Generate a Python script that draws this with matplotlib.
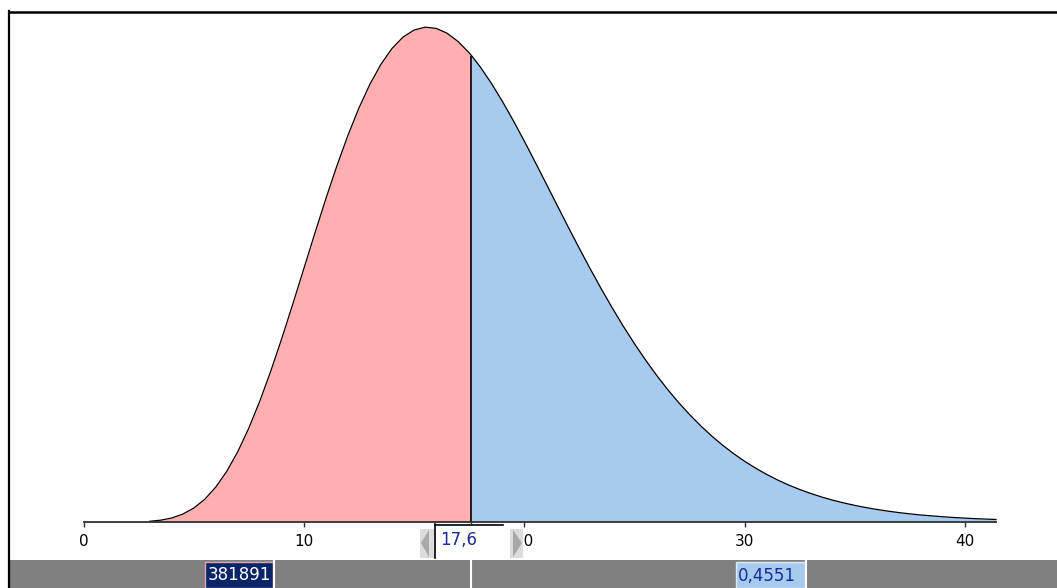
import matplotlib
matplotlib.use("Agg")
import matplotlib.pyplot as plt
from matplotlib.patches import Rectangle, Polygon
import numpy as np

# Curva de densidade (pontos a cada 0,5)
valores_x = [3.0, 3.5, 4.0, 4.5, 5.0, 5.5, 6.0, 6.5, 7.0, 7.5, 8.0, 8.5, 9.0, 9.5,
             10.0, 10.5, 11.0, 11.5, 12.0, 12.5, 13.0, 13.5, 14.0, 14.5, 15.0, 15.5,
             16.0, 16.5, 17.0, 17.5, 17.6, 18.0, 18.5, 19.0, 19.5, 20.0, 20.5, 21.0,
             21.5, 22.0, 22.5, 23.0, 23.5, 24.0, 24.5, 25.0, 25.5, 26.0, 26.5, 27.0,
             27.5, 28.0, 28.5, 29.0, 29.5, 30.0, 30.5, 31.0, 31.5, 32.0, 32.5, 33.0,
             33.5, 34.0, 34.5, 35.0, 35.5, 36.0, 36.5, 37.0, 37.5, 38.0, 38.5, 39.0,
             39.5, 40.0, 40.5, 41.0, 41.4]
densidade = [0.00010, 0.00026, 0.00057, 0.00112, 0.00198, 0.00324, 0.00498, 0.00724,
             0.01005, 0.01341, 0.01728, 0.02159, 0.02626, 0.03118, 0.03623, 0.04129,
             0.04622, 0.05091, 0.05526, 0.05917, 0.06257, 0.06541, 0.06766, 0.06928,
             0.07028, 0.07069, 0.07052, 0.06982, 0.06863, 0.06702, 0.06664, 0.06502,
             0.06270, 0.06012, 0.05734, 0.05441, 0.05137, 0.04828, 0.04518, 0.04209,
             0.03906, 0.03611, 0.03326, 0.03053, 0.02792, 0.02546, 0.02314, 0.02097,
             0.01894, 0.01707, 0.01534, 0.01375, 0.01229, 0.01096, 0.00976, 0.00866,
             0.00768, 0.00679, 0.00599, 0.00527, 0.00464, 0.00407, 0.00356, 0.00311,
             0.00272, 0.00237, 0.00206, 0.00179, 0.00155, 0.00134, 0.00116, 0.00100,
             0.00087, 0.00075, 0.00064, 0.00055, 0.00047, 0.00041, 0.00036]
corte = 17.6
rotulos_x = [0, 10, 20, 30, 40]
texto_corte = "17,6"
prob_esquerda = "381891"
prob_direita = "0,4551"

cor_esq = "#ffafaf"
cor_dir = "#a7caef"

x = np.array(valores_x)
y = np.array(densidade)

W, H = 1057, 588
fig = plt.figure(figsize=(W / 100, H / 100), dpi=100)

# Eixo principal com a curva
ax = fig.add_axes([83.5 / W, 66 / H, 912.5 / W, 504 / H])
ax.set_xlim(0, x[-1])
ax.set_ylim(0, 0.072)

esq = x <= corte
dire = x >= corte
ax.fill_between(x[esq], 0, y[esq], color=cor_esq, linewidth=0)
ax.fill_between(x[dire], 0, y[dire], color=cor_dir, linewidth=0)
ax.plot(x, y, color="black", linewidth=0.9, clip_on=False)
ax.vlines(corte, 0, y[x == corte][0], color="black", linewidth=1.2)

for lado in ["left", "right", "top"]:
    ax.spines[lado].set_visible(False)
ax.spines["bottom"].set_bounds(0, x[-1])
ax.spines["bottom"].set_color("#303030")
ax.spines["bottom"].set_linewidth(1.3)
ax.set_yticks([])
ax.set_xticks(rotulos_x + [corte])
ax.set_xticklabels([str(v) for v in rotulos_x] + [""])
ax.tick_params(axis="x", length=3.5, width=1, pad=5, labelsize=11, color="#303030")

# Moldura e controles da interface (coordenadas em pixels)
ui = fig.add_axes([0, 0, 1, 1], zorder=5)
ui.set_xlim(0, W)
ui.set_ylim(H, 0)
ui.axis("off")

ui.plot([8.5, 8.5], [11, H], color="black", linewidth=1.6)
ui.plot([8.5, W], [12, 12], color="black", linewidth=1.8)

# Barra cinza inferior
ui.add_patch(Rectangle((10, 560), W - 10, 28, facecolor="#808080", edgecolor="none"))
for xb in [274, 471, 806]:
    ui.plot([xb, xb], [560, H], color="white", linewidth=1.5)

# Caixas com as probabilidades
ui.add_patch(Rectangle((205, 562), 68, 26, facecolor="#0a246a", edgecolor="#e8a4aa", linewidth=1))
ui.text(271, 575, prob_esquerda, color="white", fontsize=12, ha="right", va="center")
ui.add_patch(Rectangle((736, 562), 69, 26, facecolor=cor_dir, edgecolor="#e0e8f4", linewidth=1))
ui.text(738, 576, prob_direita, color="#1a2a9a", fontsize=12, ha="left", va="center")

# Controle de valor do corte
ui.add_patch(Rectangle((420, 529), 14, 29, facecolor="#dcdcdc", edgecolor="none"))
ui.add_patch(Polygon([(421, 543), (429, 530), (429, 557)], facecolor="#a8a8a8", edgecolor="none"))
ui.add_patch(Rectangle((434, 524), 73, 34, facecolor="white", edgecolor="none"))
ui.plot([434.5, 434.5], [524, 558], color="black", linewidth=1.2)
ui.plot([434.5, 503], [524.5, 524.5], color="black", linewidth=1.2)
ui.text(440, 540, texto_corte, color="#1a2a9a", fontsize=12, ha="left", va="center")
ui.add_patch(Rectangle((510, 529), 13, 29, facecolor="#dcdcdc", edgecolor="none"))
ui.add_patch(Polygon([(522, 543), (513, 530), (513, 557)], facecolor="#a8a8a8", edgecolor="none"))

plt.savefig("out.png", dpi=100)
